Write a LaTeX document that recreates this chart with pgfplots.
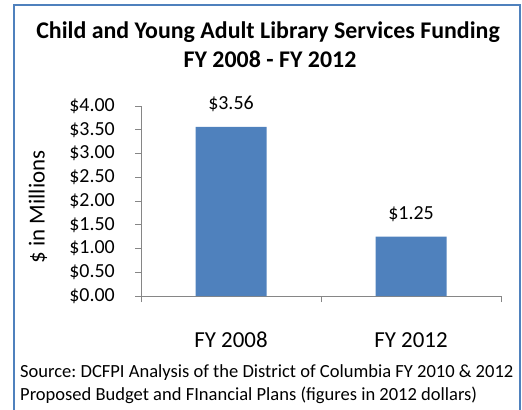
\documentclass[border=0pt]{standalone}
\usepackage{fontspec}
\setmainfont{Carlito}
\usepackage{pgfplots}
\pgfplotsset{compat=1.18}
\definecolor{xlblue}{HTML}{4F81BD}
\definecolor{xlgray}{HTML}{868686}
\frenchspacing
\begin{document}
\begin{tikzpicture}
\begin{axis}[
    at={(0,0)}, anchor=south west,
    scale only axis, width=360bp, height=190bp,
    xmin=-0.5, xmax=1.5, ymin=0, ymax=4,
    axis x line*=bottom, axis y line*=left,
    axis line style={xlgray, line width=1bp},
    tick style={xlgray, line width=1bp},
    tick align=outside, major tick length=6bp,
    xtick={-0.5,0.5,1.5}, xticklabels={FY 2008,FY 2012},
    x tick label as interval,
    xticklabel style={font=\fontsize{23}{28}\selectfont, anchor=base, yshift=-45bp},
    ytick={0,0.5,1,1.5,2,2.5,3,3.5,4},
    yticklabels={\$0.00,\$0.50,\$1.00,\$1.50,\$2.00,\$2.50,\$3.00,\$3.50,\$4.00},
    yticklabel style={font=\fontsize{20}{24}\selectfont, anchor=east, inner sep=0, xshift=-20bp},
    /pgf/number format/assume math mode=true,
    ybar, bar width=71bp,
    nodes near coords={\$\pgfmathprintnumber[fixed,fixed zerofill,precision=2]{\pgfplotspointmeta}},
    every node near coord/.append style={font=\fontsize{20}{24}\selectfont, anchor=base, inner sep=0, yshift=17bp},
]
\addplot[fill=xlblue, draw=none] coordinates {(0,3.56) (1,1.25)};
\end{axis}
\begin{scope}[x=1bp, y=1bp, shift={(-141bp,-113bp)}]
% chart frame (bottom edge falls outside the picture)
\draw[xlblue, line width=1.5bp] (14,-3) -- (14,404) -- (520,404) -- (520,-3);
\node[anchor=base, inner sep=0, font=\fontsize{24}{29}\selectfont\bfseries] at (268,371) {Child and Young Adult Library Services Funding};
\node[anchor=base, inner sep=0, font=\fontsize{24}{29}\selectfont\bfseries] at (270,342) {FY 2008 - FY 2012};
\node[rotate=90, inner sep=0, font=\fontsize{23}{28}\selectfont] at (38,202) {\$ in Millions};
\node[anchor=base west, inner sep=0, font=\fontsize{18.6}{23}\selectfont] at (20,32) {Source: DCFPI Analysis of the District of Columbia FY 2010 \& 2012};
\node[anchor=base west, inner sep=0, font=\fontsize{18.6}{23}\selectfont] at (20,9) {Proposed Budget and FInancial Plans (figures in 2012 dollars)};
\pgfresetboundingbox
\useasboundingbox (0,0) rectangle (522,409);
\end{scope}
\end{tikzpicture}
\end{document}
